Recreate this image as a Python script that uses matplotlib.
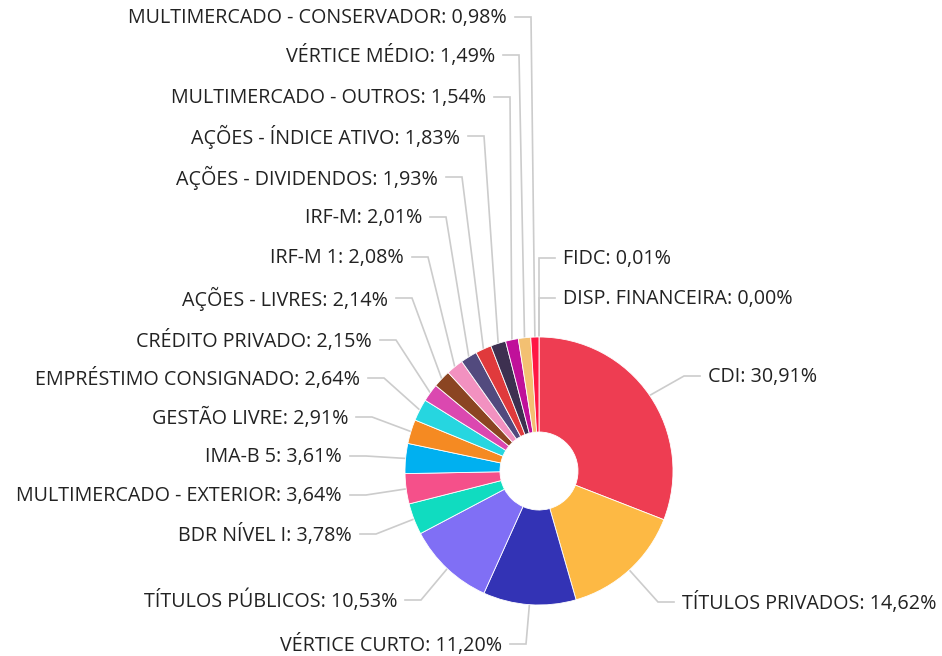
## Libraries
import numpy as np
import matplotlib.pyplot as plt

## Data
labels = ['DISP. FINANCEIRA', 'FIDC', 'CDI', 'TÍTULOS PRIVADOS', 'VÉRTICE CURTO',
          'TÍTULOS PÚBLICOS', 'BDR NÍVEL I', 'MULTIMERCADO - EXTERIOR', 'IMA-B 5',
          'GESTÃO LIVRE', 'EMPRÉSTIMO CONSIGNADO', 'CRÉDITO PRIVADO', 'AÇÕES - LIVRES',
          'IRF-M 1', 'IRF-M', 'AÇÕES - DIVIDENDOS', 'AÇÕES - ÍNDICE ATIVO',
          'MULTIMERCADO - OUTROS', 'VÉRTICE MÉDIO', 'MULTIMERCADO - CONSERVADOR']
values = [0.00, 0.01, 30.91, 14.62, 11.20, 10.53, 3.78, 3.64, 3.61, 2.91, 2.64,
          2.15, 2.14, 2.08, 2.01, 1.93, 1.83, 1.54, 1.49, 0.98]

## Style
colors = ['#2f7ed8', '#8bbc21', '#ee3d52', '#fdb944', '#3333b5', '#806ff5', '#10dcc0',
          '#f5508a', '#00b0f0', '#f58a22', '#26d6e0', '#db48b0', '#8b4522', '#f291c0',
          '#524a7e', '#e03a3c', '#3d3050', '#c0109a', '#f3c072', '#ff1744']

# label layout (pixels from top-left): text anchor x, line y, side
lab_x = [563, 563, 708, 682, 502, 397, 352, 342, 342, 348, 360, 372, 388,
         404, 422, 438, 460, 486, 495, 507]
lab_y = [298, 258, 376, 602, 644, 600, 534, 495, 456, 417, 378, 340, 298,
         257, 217, 177, 136, 97, 55, 17]
side = ['R', 'R', 'R', 'R', 'L', 'L', 'L', 'L', 'L', 'L', 'L', 'L', 'L',
        'L', 'L', 'L', 'L', 'L', 'L', 'L']

W, H = 942, 656
cx, cy, R, r_in = 539, 471, 134, 39

plt.rcParams['font.family'] = ['Open Sans', 'DejaVu Sans']

fig = plt.figure(figsize=(W / 100, H / 100), dpi=100)
ax = fig.add_axes([0, 0, 1, 1])

wedges, _ = ax.pie(values, colors=colors, startangle=90, counterclock=False,
                   radius=R, center=(cx, H - cy), frame=True,
                   wedgeprops=dict(width=R - r_in, edgecolor='white', linewidth=0.6))
ax.set_xlim(0, W)
ax.set_ylim(0, H)
ax.set_aspect('equal')
ax.axis('off')

## Labels with connectors
cum = np.cumsum(values) - np.array(values) / 2
total = sum(values)
for i, lab in enumerate(labels):
    theta = np.deg2rad(cum[i] / total * 360)
    x0 = cx + R * np.sin(theta)
    y0 = cy - R * np.cos(theta)
    y1 = lab_y[i]
    if side[i] == 'R':
        xe = lab_x[i] - 24
        xt = lab_x[i] - 8
        ha = 'left'
    else:
        xe = lab_x[i] + 24
        xt = lab_x[i] + 8
        ha = 'right'
    ax.plot([x0, xe, xt], [H - y0, H - y1, H - y1], color='#cccccc', lw=1.2,
            solid_joinstyle='miter', zorder=0)
    txt = lab + ': ' + f'{values[i]:.2f}'.replace('.', ',') + '%'
    ax.text(lab_x[i], H - y1 - 1, txt, ha=ha, va='center', fontsize=14.2, color='#222222')

fig.savefig('out.png', dpi=100)
